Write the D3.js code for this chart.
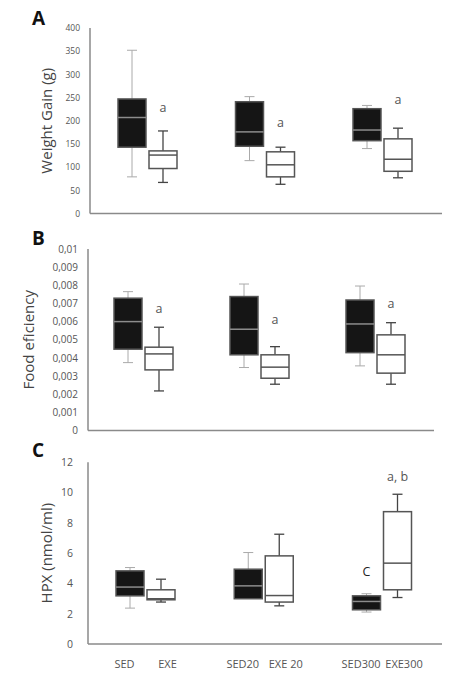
<!DOCTYPE html>
<html lang="en">
<head>
    <meta charset="UTF-8">
    <title>Box plots</title>
    <script type="text/javascript" src="https://cdn.jsdelivr.net/npm/d3@7/dist/d3.min.js"></script>
    <style type="text/css">
        body { margin: 0; background: #fff; }
        text { font-family: "Open Sans", sans-serif; }
    </style>
</head>
<body>
    <script type="text/javascript">
        //Width and height
        var w = 465;
        var h = 675;

        // categories, in pairs (sedentary / exercise)
        var categories = ["SED", "EXE", "SED20", "EXE 20", "SED300", "EXE300"];
        var pairs = ["0", "0", "20", "20", "300", "300"];
        var pairNames = ["0", "20", "300"];

        // [min, q1, median, q3, max]
        var weightGain = [
            [79, 143, 207, 247, 352],
            [67, 97, 126, 135, 178],
            [114, 145, 176, 241, 252],
            [63, 79, 105, 133, 143],
            [140, 157, 180, 226, 233],
            [77, 91, 117, 161, 184]
        ];
        var foodEfficiency = [
            [0.00374, 0.00448, 0.0060, 0.00729, 0.00765],
            [0.00218, 0.00334, 0.00422, 0.00459, 0.00569],
            [0.00347, 0.00417, 0.00558, 0.00738, 0.00807],
            [0.00255, 0.00288, 0.00349, 0.00417, 0.00462],
            [0.00356, 0.00429, 0.00587, 0.00719, 0.00796],
            [0.00255, 0.00316, 0.00417, 0.00527, 0.00594]
        ];
        var hpx = [
            [2.37, 3.18, 3.76, 4.83, 5.05],
            [2.77, 2.92, 2.99, 3.58, 4.28],
            [2.99, 2.99, 3.84, 4.94, 6.04],
            [2.52, 2.77, 3.2, 5.82, 7.25],
            [2.11, 2.26, 2.81, 3.18, 3.32],
            [3.07, 3.58, 5.34, 8.74, 9.89]
        ];

        // tick labels
        var ticksA = [0, 50, 100, 150, 200, 250, 300, 350, 400];
        var ticksB = [0, 0.001, 0.002, 0.003, 0.004, 0.005, 0.006, 0.007, 0.008, 0.009, 0.01];
        var ticksC = [0, 2, 4, 6, 8, 10, 12];

        // significance letters: [category, text, y value]
        var notesA = [["EXE", "a", 229], ["EXE 20", "a", 196], ["EXE300", "a", 245]];
        var notesB = [["EXE", "a", 0.0067], ["EXE 20", "a", 0.0061], ["EXE300", "a", 0.0070]];
        var notesC = [["SED300", "C", 4.79], ["EXE300", "a, b", 11.05]];

        var commaFormat = d3.formatLocale({decimal: ",", thousands: ".", grouping: [3], currency: ["", ""]}).format(".3~f");

        var svg = d3.select("body")
            .append("svg")
            .attr("width", w)
            .attr("height", h);

        var panels = [
            {letter: "A", letterY: 25, title: "Weight Gain (g)", titleX: 45.5, data: weightGain, ticks: ticksA,
             domain: [0, 400], yRange: [213.5, 28], xAxis: [90, 442], centers: [147.5, 382.5],
             tickSize: 8.5, tickPad: 10, fmt: d3.format("d"), notes: notesA, xLabels: false},
            {letter: "B", letterY: 245, title: "Food eficiency", titleX: 28, data: foodEfficiency, ticks: ticksB,
             domain: [0, 0.01], yRange: [430.5, 249], xAxis: [88, 434], centers: [143.5, 375.5],
             tickSize: 10, tickPad: 10, fmt: commaFormat, notes: notesB, xLabels: false},
            {letter: "C", letterY: 457, title: "HPX (nmol/ml)", titleX: 46, data: hpx, ticks: ticksC,
             domain: [0, 12], yRange: [644, 462.3], xAxis: [88, 442], centers: [145.5, 382],
             tickSize: 10.5, tickPad: 15, fmt: d3.format("d"), notes: notesC, xLabels: true}
        ];

        var boxW = 28;
        var gap = 1.5;
        var capW = 10;

        panels.forEach(function(p) {
            var g = svg.append("g");

            var yScale = d3.scaleLinear().domain(p.domain).range(p.yRange);
            var pairScale = d3.scalePoint().domain(pairNames).range(p.centers);

            function boxCenter(i) {
                var c = pairScale(pairs[i]);
                return i % 2 === 0 ? c - gap - boxW / 2 : c + gap + boxW / 2;
            }

            // y axis labels
            var axis = g.append("g")
                .attr("transform", "translate(" + p.xAxis[0] + ",0)")
                .call(d3.axisLeft(yScale).tickValues(p.ticks).tickSize(0).tickPadding(p.tickPad).tickFormat(p.fmt));
            axis.select(".domain").remove();
            axis.selectAll("text")
                .attr("font-family", "Open Sans, sans-serif")
                .attr("font-size", p.tickSize)
                .attr("fill", "#555");

            // axis lines
            g.append("line")
                .attr("x1", p.xAxis[0]).attr("x2", p.xAxis[0])
                .attr("y1", p.yRange[1]).attr("y2", p.yRange[0])
                .attr("stroke", "#8a8a8a").attr("stroke-width", 1.5);
            g.append("line")
                .attr("x1", p.xAxis[0]).attr("x2", p.xAxis[1])
                .attr("y1", p.yRange[0]).attr("y2", p.yRange[0])
                .attr("stroke", "#8a8a8a").attr("stroke-width", 1.5);

            // boxes
            var boxes = g.selectAll("g.box")
                .data(p.data)
                .enter()
                .append("g")
                .attr("class", "box");

            boxes.each(function(d, i) {
                var b = d3.select(this);
                var cx = boxCenter(i);
                var dark = i % 2 === 0;
                var whiskerCol = dark ? "#aaa" : "#444";

                // whiskers
                b.append("line")
                    .attr("x1", cx).attr("x2", cx)
                    .attr("y1", yScale(d[4])).attr("y2", yScale(d[3]))
                    .attr("stroke", whiskerCol).attr("stroke-width", dark ? 1 : 1.3);
                b.append("line")
                    .attr("x1", cx).attr("x2", cx)
                    .attr("y1", yScale(d[1])).attr("y2", yScale(d[0]))
                    .attr("stroke", whiskerCol).attr("stroke-width", dark ? 1 : 1.3);
                [d[0], d[4]].forEach(function(v) {
                    if (v === d[1]) return;
                    b.append("line")
                        .attr("x1", cx - capW / 2).attr("x2", cx + capW / 2)
                        .attr("y1", yScale(v)).attr("y2", yScale(v))
                        .attr("stroke", whiskerCol).attr("stroke-width", dark ? 1 : 1.3);
                });

                // box
                b.append("rect")
                    .attr("x", cx - boxW / 2)
                    .attr("y", yScale(d[3]))
                    .attr("width", boxW)
                    .attr("height", yScale(d[1]) - yScale(d[3]))
                    .attr("fill", dark ? "#151515" : "#fff")
                    .attr("stroke", "#555")
                    .attr("stroke-width", 1.5);

                // median
                b.append("line")
                    .attr("x1", cx - boxW / 2).attr("x2", cx + boxW / 2)
                    .attr("y1", yScale(d[2])).attr("y2", yScale(d[2]))
                    .attr("stroke", dark ? "#8c8c8c" : "#555").attr("stroke-width", 1.5);
            });

            // letters over boxes
            g.selectAll("text.note")
                .data(p.notes)
                .enter()
                .append("text")
                .attr("class", "note")
                .attr("x", function(d) { return boxCenter(categories.indexOf(d[0])); })
                .attr("y", function(d) { return yScale(d[2]); })
                .attr("text-anchor", "middle")
                .attr("dominant-baseline", "central")
                .attr("font-size", 12.5)
                .attr("fill", function(d) { return d[1] === "C" ? "#222" : "#555"; })
                .text(function(d) { return d[1]; });

            // category labels (bottom panel only)
            if (p.xLabels) {
                g.selectAll("text.cat")
                    .data(categories)
                    .enter()
                    .append("text")
                    .attr("class", "cat")
                    .attr("x", function(d, i) {
                        var c = pairScale(pairs[i]);
                        return i % 2 === 0 ? c - 21 : c + 22;
                    })
                    .attr("y", 663)
                    .attr("text-anchor", "middle")
                    .attr("dominant-baseline", "central")
                    .attr("font-size", 11)
                    .attr("fill", "#555")
                    .text(function(d) { return d; });
            }

            // y title
            var midY = (p.yRange[0] + p.yRange[1]) / 2;
            g.append("text")
                .attr("transform", "translate(" + p.titleX + "," + midY + ") rotate(-90)")
                .attr("text-anchor", "middle")
                .attr("dominant-baseline", "central")
                .attr("font-size", 15)
                .attr("fill", "#444")
                .text(p.title);

            // panel letter
            g.append("text")
                .attr("x", 32)
                .attr("y", p.letterY)
                .attr("font-family", "Liberation Sans, Arial, sans-serif")
                .attr("font-weight", "bold")
                .attr("font-size", 19)
                .attr("fill", "#111")
                .text(p.letter);
        });
    </script>
</body>
</html>
